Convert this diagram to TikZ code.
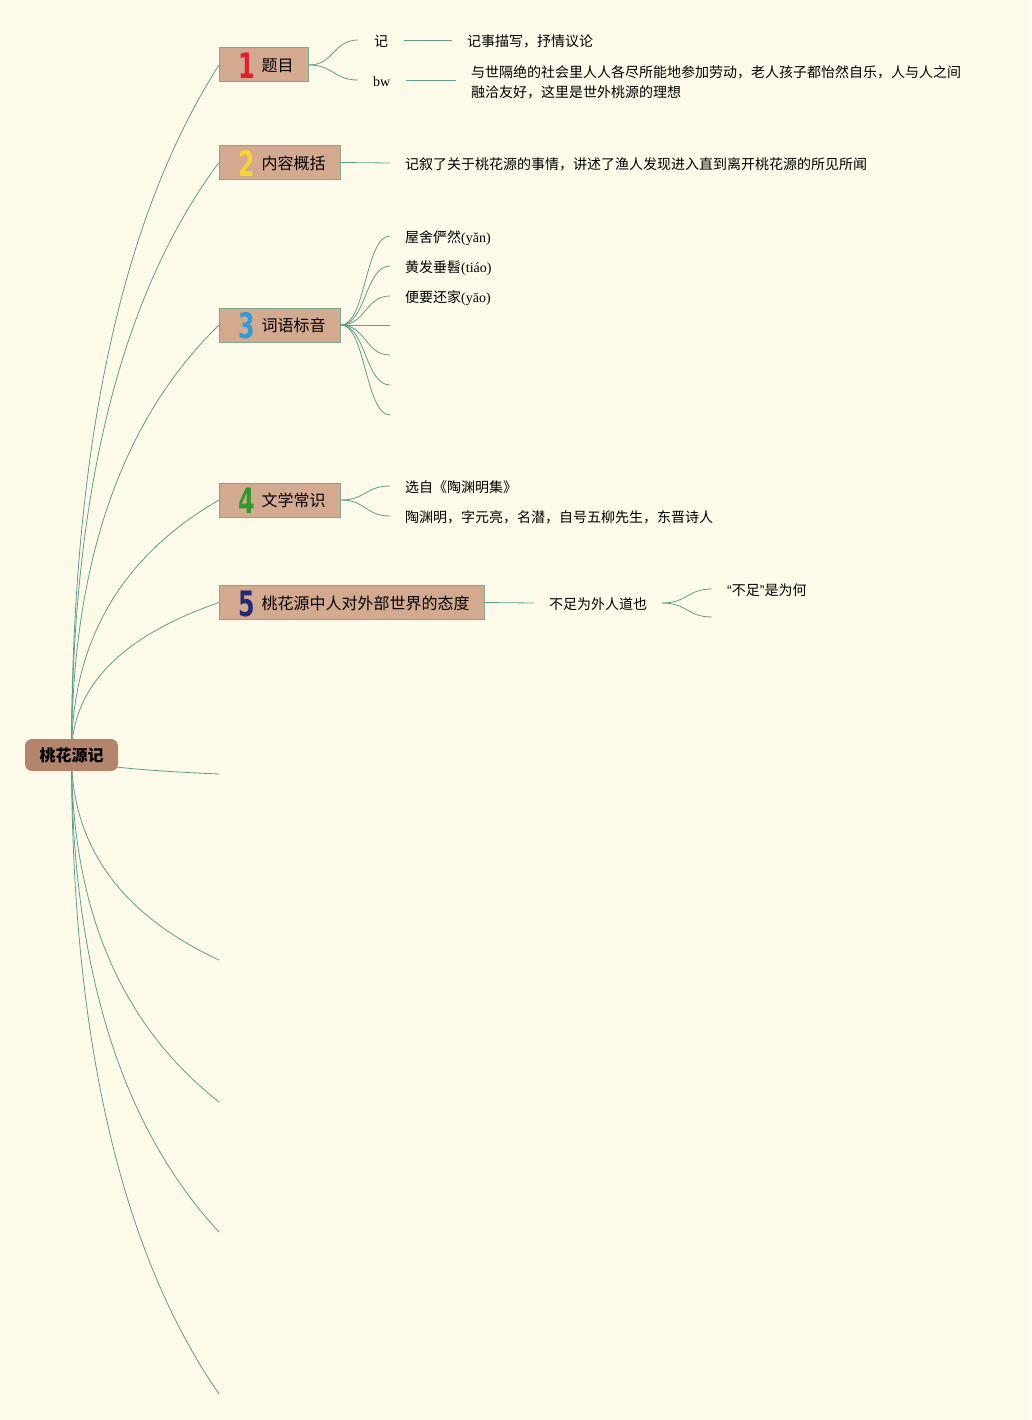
\documentclass[tikz,border=0pt]{standalone}
\usepackage{fontspec}
\setmainfont{Noto Sans CJK SC}
\newfontfamily\latserif{Liberation Serif}
\newfontfamily\latsans{Liberation Sans}
\newfontfamily\numfont{DejaVu Sans}
\usetikzlibrary{calc,backgrounds}
\definecolor{bgcol}{HTML}{FEFAEA}
\definecolor{boxfill}{HTML}{D3A98F}
\definecolor{boxline}{HTML}{7DAA8F}
\definecolor{rootfill}{HTML}{B3856D}
\definecolor{linkcol}{HTML}{5E9F8C}
\definecolor{nred}{HTML}{E02030}
\definecolor{nyellow}{HTML}{F5D43A}
\definecolor{nblue}{HTML}{2F9BDA}
\definecolor{ngreen}{HTML}{2E9A2E}
\definecolor{nnavy}{HTML}{1F2A78}
\newcommand{\py}[1]{{\latserif #1}}
\newcommand{\numlab}[2]{\makebox[22pt]{\raisebox{-7pt}{\textcolor{#1}{\numfont\bfseries\fontsize{25pt}{25pt}\selectfont\scalebox{0.95}[1.4]{#2}}}}}
\newcommand{\topiclabel}[3]{\kern16pt\numlab{#1}{#2}\kern4pt #3\kern15pt}
\tikzset{
  topicbox/.style={draw=boxline, fill=boxfill, line width=1pt, minimum height=34pt,
    inner xsep=0pt, inner ysep=0pt, anchor=west, text height=13.5pt, text depth=0pt,
    font=\fontsize{16pt}{18pt}\selectfont},
  rootbox/.style={fill=rootfill, rounded corners=7pt, minimum width=93pt, minimum height=32pt,
    inner sep=0pt, text height=13pt, text depth=0pt, font=\fontsize{16pt}{18pt}\selectfont\bfseries},
  leaf/.style={anchor=west, inner xsep=15pt, inner ysep=0pt, text height=14pt, text depth=0.5pt,
    font=\fontsize{14pt}{20pt}\selectfont},
  leafml/.style={anchor=west, inner xsep=15pt, inner ysep=0pt, align=left,
    font=\fontsize{14pt}{20pt}\selectfont},
  link/.style={draw=linkcol, line width=0.8pt},
  rootlink/.style={to path={let \p1=(\tikztostart), \p2=(\tikztotarget) in
    .. controls (\x1,{\y1+0.443*(\y2-\y1)}) and ({\x1+(\x2-\x1)/3},{\y2+0.223*(\y1-\y2)}) .. (\tikztotarget)}},
  childlink/.style={to path={let \p1=(\tikztostart), \p2=(\tikztotarget) in
    .. controls ({(\x1+\x2)/2},\y1) and ({(\x1+\x2)/2},\y2) .. (\tikztotarget)}}
}
\begin{document}
\begin{tikzpicture}[x=1pt,y=-1pt]
\useasboundingbox (0,0) rectangle (1031,1420);
% root
\node[rootbox] (root) at (71.5,755) {桃花源记};
% main topics
\node[topicbox] (b1) at (219,65) {\topiclabel{nred}{1}{题目}};
\node[topicbox] (b2) at (219,162.5) {\topiclabel{nyellow}{2}{内容概括}};
\node[topicbox] (b3) at (219,325) {\topiclabel{nblue}{3}{词语标音}};
\node[topicbox] (b4) at (219,500) {\topiclabel{ngreen}{4}{文学常识}};
\node[topicbox] (b5) at (219,602.5) {\topiclabel{nnavy}{5}{桃花源中人对外部世界的态度}};
% empty root branches
\coordinate (e6) at (219,774);
\coordinate (e7) at (219,960);
\coordinate (e8) at (219,1102);
\coordinate (e9) at (219,1232);
\coordinate (e10) at (219,1394);
% topic 1
\node[leaf, inner xsep=16pt] (t1a) at (358,40) {记};
\node[leaf] (t1a1) at (452,40) {记事描写，抒情议论};
\node[leaf] (t1b) at (358,80) {\py{bw}};
\node[leafml] (t1b1) at (456,82) {与世隔绝的社会里人人各尽所能地参加劳动，老人孩子都怡然自乐，人与人之间\\融洽友好，这里是世外桃源的理想};
% topic 2
\node[leaf] (t2a) at (390,163) {记叙了关于桃花源的事情，讲述了渔人发现进入直到离开桃花源的所见所闻};
% topic 3
\node[leaf] (t3a) at (390,236) {屋舍俨然\py{(yǎn)}};
\node[leaf] (t3b) at (390,266) {黄发垂髫\py{(tiáo)}};
\node[leaf] (t3c) at (390,296) {便要还家\py{(yāo)}};
\coordinate (t3d) at (390,325);
\coordinate (t3e) at (390,355);
\coordinate (t3f) at (390,385);
\coordinate (t3g) at (390,415);
% topic 4
\node[leaf] (t4a) at (390,486) {选自《陶渊明集》};
\node[leaf] (t4b) at (390,516) {陶渊明，字元亮，名潜，自号五柳先生，东晋诗人};
% topic 5
\node[leaf] (t5a) at (534,603) {不足为外人道也};
\node[leaf] (t5a1) at (712,589) {{\latsans “}不足{\latsans ”}是为何};
\coordinate (t5a2) at (712,617);

\begin{pgfonlayer}{background}
\fill[bgcol] (0,0) rectangle (1031,1420);
\foreach \t in {b1.west,b2.west,b3.west,b4.west,b5.west,e6,e7,e8,e9,e10}
  \draw[link] (root.center) to[rootlink] (\t);
\draw[link] (b1.east) to[childlink] (t1a.west);
\draw[link] (b1.east) to[childlink] (t1b.west);
\draw[link] (t1a.east) -- (t1a1.west);
\draw[link] (t1b.east) -- (t1b1.west |- t1b.east);
\draw[link] (b2.east) -- (t2a.west);
\foreach \t in {t3a.west,t3b.west,t3c.west,t3d,t3e,t3f,t3g}
  \draw[link] (b3.east) to[childlink] (\t);
\draw[link] (b4.east) to[childlink] (t4a.west);
\draw[link] (b4.east) to[childlink] (t4b.west);
\draw[link] (b5.east) -- (t5a.west);
\draw[link] (t5a.east) to[childlink] (t5a1.west);
\draw[link] (t5a.east) to[childlink] (t5a2);
\end{pgfonlayer}
\end{tikzpicture}
\end{document}
